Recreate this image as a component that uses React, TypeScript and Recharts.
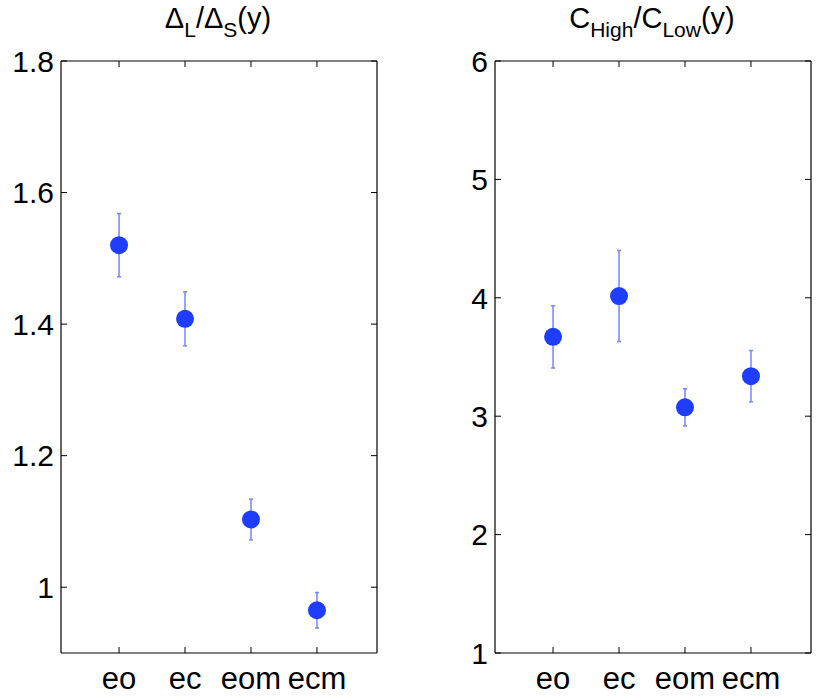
import React from "react";
import {
  ScatterChart,
  Scatter,
  XAxis,
  YAxis,
  ErrorBar,
} from "recharts";

// categories on the x axis
const categories = ["eo", "ec", "eom", "ecm"];

// left panel: Delta_L / Delta_S (y)
const deltaRatio = [1.52, 1.408, 1.103, 0.965];
const deltaErr = [0.048, 0.041, 0.031, 0.027];
const deltaTicks = [1, 1.2, 1.4, 1.6, 1.8];

// right panel: C_High / C_Low (y)
const cRatio = [3.67, 4.015, 3.075, 3.338];
const cErr = [0.263, 0.385, 0.157, 0.217];
const cTicks = [1, 2, 3, 4, 5, 6];

const FONT = "'Liberation Sans', Arial, Helvetica, sans-serif";
const MARK = "#1f3dff";
const BAR = "#7186ff";

const toRows = (vals: number[], errs: number[]) =>
  vals.map((v, i) => ({ x: i + 1, y: v, err: errs[i] }));

const Panel = ({ left, width, plotLeft, plotRight, vals, errs, ticks, domain }: any) => {
  const top = 61;
  const bottom = 653;
  const height = 698;
  const L = plotLeft - left;
  const R = plotRight - left;
  const rows = toRows(vals, errs);
  const line = { stroke: "#000", strokeWidth: 1.2 };

  const yTick = (p: any) => (
    <g>
      <line x1={L} x2={L + 6} y1={p.y} y2={p.y} stroke="#000" strokeWidth={1} />
      <line x1={R - 6} x2={R} y1={p.y} y2={p.y} stroke="#000" strokeWidth={1} />
      <text x={L - 7} y={p.y} dy="0.36em" textAnchor="end" fontSize={30} fontFamily={FONT} fill="#000">
        {p.payload.value}
      </text>
    </g>
  );

  const xTick = (p: any) => (
    <g>
      <line x1={p.x} x2={p.x} y1={bottom} y2={bottom - 6} stroke="#000" strokeWidth={1} />
      <line x1={p.x} x2={p.x} y1={top} y2={top + 6} stroke="#000" strokeWidth={1} />
      <text x={p.x} y={689} textAnchor="middle" fontSize={31} fontFamily={FONT} fill="#000">
        {categories[p.payload.value - 1]}
      </text>
    </g>
  );

  return (
    <div style={{ position: "absolute", left, top: 0 }}>
      <ScatterChart
        width={width}
        height={height}
        margin={{ top: top - 1, bottom: height - bottom - 1, left: L - 1, right: width - R - 1 }}
      >
        <XAxis
          type="number"
          dataKey="x"
          domain={[0.12, 4.91]}
          ticks={[1, 2, 3, 4]}
          allowDataOverflow
          height={1}
          tickLine={false}
          axisLine={line}
          tick={xTick}
        />
        <XAxis
          xAxisId="top"
          orientation="top"
          type="number"
          domain={[0.12, 4.91]}
          height={1}
          tick={false}
          tickLine={false}
          axisLine={line}
        />
        <YAxis
          type="number"
          dataKey="y"
          domain={domain}
          ticks={ticks}
          allowDataOverflow
          width={1}
          tickLine={false}
          axisLine={line}
          tick={yTick}
        />
        <YAxis
          yAxisId="right"
          orientation="right"
          type="number"
          domain={domain}
          width={1}
          tick={false}
          tickLine={false}
          axisLine={line}
        />
        <Scatter
          data={rows}
          isAnimationActive={false}
          shape={(p: any) => <circle cx={p.cx} cy={p.cy} r={9} fill={MARK} />}
        >
          <ErrorBar dataKey="err" direction="y" width={2} stroke={BAR} strokeWidth={1.5} />
        </Scatter>
      </ScatterChart>
    </div>
  );
};

export default function App() {
  return (
    <div style={{ position: "absolute", left: 0, top: 0, width: 817, height: 698, background: "#fff" }}>
      <Panel
        left={0}
        width={420}
        plotLeft={61}
        plotRight={377}
        vals={deltaRatio}
        errs={deltaErr}
        ticks={deltaTicks}
        domain={[0.9, 1.8]}
      />
      <Panel
        left={420}
        width={397}
        plotLeft={495}
        plotRight={811}
        vals={cRatio}
        errs={cErr}
        ticks={cTicks}
        domain={[1, 6]}
      />
      <svg width={817} height={60} style={{ position: "absolute", left: 0, top: 0 }}>
        <text x={218} y={28} textAnchor="middle" fontFamily={FONT} fontSize={29} fill="#000">
          Δ
          <tspan fontSize={21} dy={9}>L</tspan>
          <tspan dy={-9}>/Δ</tspan>
          <tspan fontSize={21} dy={9}>S</tspan>
          <tspan dy={-9}>(y)</tspan>
        </text>
        <text x={652} y={28} textAnchor="middle" fontFamily={FONT} fontSize={29} fill="#000">
          C
          <tspan fontSize={21} dy={9}>High</tspan>
          <tspan dy={-9}>/C</tspan>
          <tspan fontSize={21} dy={9}>Low</tspan>
          <tspan dy={-9}>(y)</tspan>
        </text>
      </svg>
    </div>
  );
}
